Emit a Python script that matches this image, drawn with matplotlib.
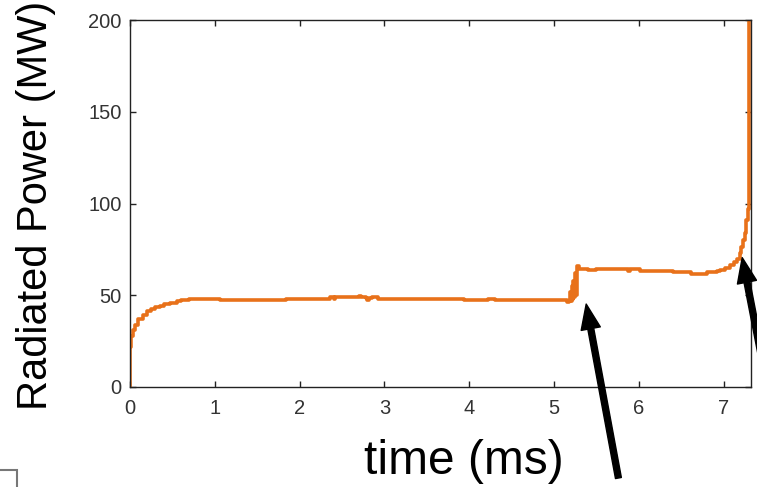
import matplotlib
matplotlib.use('Agg')
import matplotlib.pyplot as plt
from matplotlib.patches import Rectangle

# dados (tempo em ms, potencia em MW)
tempo = [0.0, 0.0, 0.01, 0.03, 0.06, 0.1, 0.15, 0.2, 0.25, 0.3, 0.35, 0.4, 0.47, 0.55, 0.6, 0.7,
         1.05, 1.06, 1.83, 1.84, 2.35, 2.36, 2.4, 2.42, 2.6, 2.7, 2.72, 2.78, 2.8, 2.82, 2.85, 2.93,
         3.93, 3.94, 4.2, 4.22, 4.3, 4.32, 5.12, 5.15, 5.18, 5.19, 5.2, 5.21, 5.22, 5.23, 5.24,
         5.25, 5.26, 5.27, 5.3, 5.4, 5.5, 5.55, 5.85, 5.87, 5.9, 6.02, 6.4, 6.6, 6.62, 6.8, 6.92,
         6.96, 7.02, 7.08, 7.12, 7.16, 7.19, 7.21, 7.235, 7.25, 7.27, 7.285, 7.295, 7.297, 7.298,
         7.299, 7.3]
potencia = [0, 22, 28, 31, 34, 37, 39.5, 41.5, 42.5, 43.5, 44.3, 45, 45.9, 46.8, 47.4, 48.2,
            48.2, 47.3, 47.3, 48.0, 48.0, 49.0, 48.2, 49.0, 49.0, 49.8, 49.0, 48.5, 47.6, 48.6, 49.0, 48.0,
            48.0, 47.3, 47.3, 48.0, 47.3, 47.3, 47.3, 46.3, 47.0, 52, 47, 55, 48, 58, 49,
            62, 50, 65.8, 64.5, 64.0, 64.3, 64.3, 64.3, 63.0, 64.3, 63.4, 62.6, 62.4, 61.8, 62.4, 63.0,
            63.8, 64.8, 66.5, 68, 70, 73, 76.5, 80, 84, 91, 97, 101, 140, 156,
            145, 200]

xticks = [0, 1, 2, 3, 4, 5, 6, 7]
yticks = [0, 50, 100, 150, 200]

# setas: (ponta t, ponta P, cauda t, cauda P)
setas = [(5.38, 45.2, 5.76, -49.6),
         (7.22, 70.5, 7.55, -8.0)]

W, H = 757, 487
fig = plt.figure(figsize=(W / 100, H / 100), dpi=100)
ax = fig.add_axes([130 / W, (H - 387) / H, 620.7 / W, 367 / H])

ax.plot(tempo, potencia, color='#e8711a', linewidth=2.6, drawstyle='steps-post')

ax.set_xlim(0, 7.32)
ax.set_ylim(0, 200)
ax.set_xticks(xticks)
ax.set_yticks(yticks)

ax.tick_params(direction='in', length=4, width=1, color='#222222', top=True, right=True,
               labelsize=14.5, labelcolor='#333333', labelfontfamily='Liberation Sans')
ax.tick_params(axis='x', pad=9)
ax.tick_params(axis='y', pad=6)
for s in ax.spines.values():
    s.set_color('#222222')
    s.set_linewidth(1)

# titulos dos eixos
fig.text(36 / W, 1 - 205 / H, 'Radiated Power (MW)', rotation=90, ha='center', va='center',
         fontsize=30, family='Liberation Sans')
fig.text(464 / W, 1 - 462 / H, 'time (ms)', ha='center', va='center',
         fontsize=34.5, family='Liberation Sans')

# setas pretas
for xp, yp, xc, yc in setas:
    ax.annotate('', xy=(xp, yp), xytext=(xc, yc), xycoords='data', textcoords='data',
                annotation_clip=False,
                arrowprops=dict(facecolor='black', edgecolor='black', width=4.3,
                                headwidth=14, headlength=18, shrink=0))

# caixinha cortada no canto inferior esquerdo
fig.add_artist(Rectangle((-3 / W, -5 / H), 20 / W, 22 / H, transform=fig.transFigure,
                         fill=False, edgecolor='#777777', linewidth=1.5))

fig.savefig('out.png', dpi=100)
